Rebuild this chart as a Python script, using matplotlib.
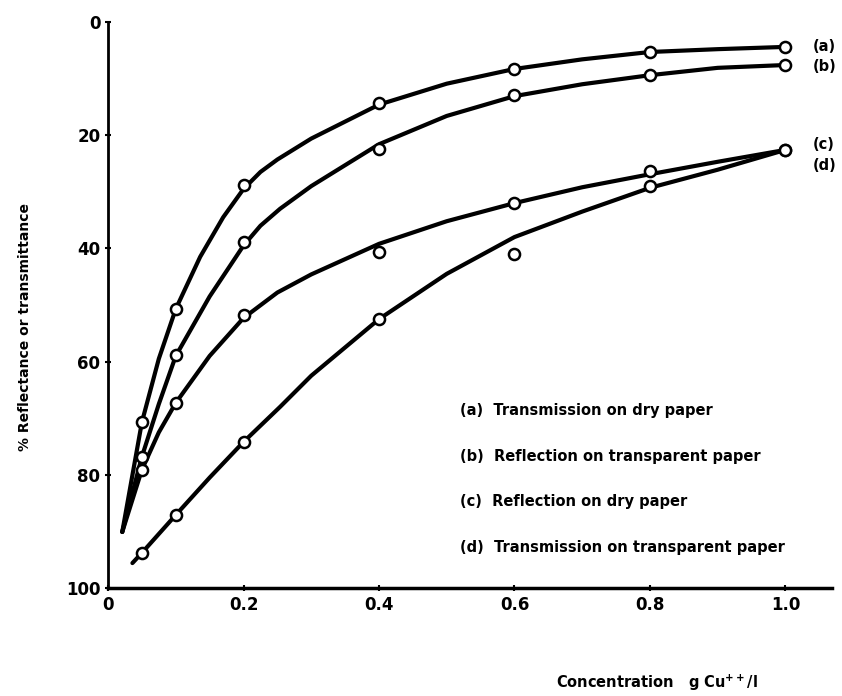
import matplotlib
matplotlib.use('Agg')
import matplotlib.pyplot as plt

# concentracion g Cu++/l (puntos medidos)
conc = [0.05, 0.1, 0.2, 0.4, 0.6, 0.8, 1.0]

# puntos medidos (% reflectancia o transmitancia)
pts_a = [70.7, 50.7, 28.8, 14.3, 8.3, 5.3, 4.4]
pts_b = [76.9, 58.8, 38.9, 22.4, 12.9, 9.4, 7.6]
pts_c = [79.1, 67.3, 51.7, 40.6, 32.0, 26.3, 22.6]
pts_d = [93.8, 87.1, 74.2, 52.5, 41.0, 29.0, 22.6]

# curvas trazadas a mano
xa = [0.021, 0.05, 0.075, 0.1, 0.136, 0.17, 0.2, 0.225, 0.25, 0.3, 0.4, 0.5, 0.6, 0.7, 0.8, 0.9, 1.0]
ya = [90.1, 70.7, 59.5, 50.7, 41.5, 34.5, 29.5, 26.5, 24.3, 20.6, 14.6, 10.9, 8.3, 6.6, 5.3, 4.8, 4.4]
xb = [0.021, 0.05, 0.075, 0.1, 0.15, 0.2, 0.225, 0.254, 0.3, 0.4, 0.5, 0.6, 0.7, 0.8, 0.9, 1.0]
yb = [90.1, 76.8, 67.5, 59.0, 48.5, 39.5, 36.0, 33.0, 29.0, 21.6, 16.6, 13.1, 11.0, 9.4, 8.1, 7.6]
xc = [0.021, 0.05, 0.075, 0.1, 0.15, 0.2, 0.25, 0.3, 0.4, 0.5, 0.6, 0.7, 0.8, 0.9, 1.0]
yc = [90.1, 79.1, 72.5, 67.3, 59.0, 52.3, 47.8, 44.6, 39.2, 35.2, 32.0, 29.2, 26.9, 24.7, 22.6]
xd = [0.036, 0.05, 0.1, 0.15, 0.2, 0.254, 0.3, 0.4, 0.5, 0.6, 0.7, 0.8, 0.9, 1.0]
yd = [95.6, 93.8, 87.1, 80.5, 74.2, 68.0, 62.5, 52.5, 44.5, 38.0, 33.5, 29.3, 26.1, 22.6]

etiquetas = ['(a)  Transmission on dry paper',
             '(b)  Reflection on transparent paper',
             '(c)  Reflection on dry paper',
             '(d)  Transmission on transparent paper']
cortas = ['(a)', '(b)', '(c)', '(d)']
y_cortas = [4.4, 7.8, 21.7, 25.4]

xticks = [0, 0.2, 0.4, 0.6, 0.8, 1.0]
xticklabels = ['0', '0.2', '0.4', '0.6', '0.8', '1.0']
yticks = [0, 20, 40, 60, 80, 100]

plt.rcParams['font.family'] = 'DejaVu Sans'
plt.rcParams['font.weight'] = 'bold'

fig = plt.figure(figsize=(8.42, 6.96), dpi=100)
ax = fig.add_axes([0.1283, 0.1552, 0.86, 0.8132])

for xs, ys in [(xa, ya), (xb, yb), (xc, yc), (xd, yd)]:
    ax.plot(xs, ys, '-', color='black', lw=3, solid_capstyle='round',
            solid_joinstyle='round', zorder=2)
for ps in [pts_a, pts_b, pts_c, pts_d]:
    ax.plot(conc, ps, 'o', color='black', mfc='white', ms=8, mew=1.8,
            zorder=3, clip_on=False)

ax.set_xlim(0, 1.069)
ax.set_ylim(100, 0)
ax.set_xticks(xticks)
ax.set_xticklabels(xticklabels)
ax.set_yticks(yticks)
ax.tick_params(axis='both', labelsize=12, width=1.5, length=4, direction='inout')
for lbl in ax.get_xticklabels() + ax.get_yticklabels():
    lbl.set_fontweight('bold')

ax.spines['top'].set_visible(False)
ax.spines['right'].set_visible(False)
ax.spines['left'].set_linewidth(2)
ax.spines['bottom'].set_linewidth(2.5)

# leyenda escrita dentro del grafico
y_ley = [68.7, 76.8, 84.8, 92.8]
for t, yy in zip(etiquetas, y_ley):
    ax.text(0.52, yy, t, fontsize=10.5, fontweight='bold', va='center', ha='left')

# nombres de curvas a la derecha
for t, yy in zip(cortas, y_cortas):
    ax.text(1.04, yy, t, fontsize=10.5, fontweight='bold', va='center',
            ha='left', clip_on=False)

fig.text(0.03, 0.53, '% Reflectance or transmittance', rotation=90,
         fontsize=10, fontweight='bold', ha='center', va='center')
fig.text(0.78, 0.004, 'Concentration   g Cu$^{\\mathbf{++}}$/l', fontsize=10.5,
         fontweight='bold', ha='center', va='bottom')

plt.savefig('out.png', dpi=100)
